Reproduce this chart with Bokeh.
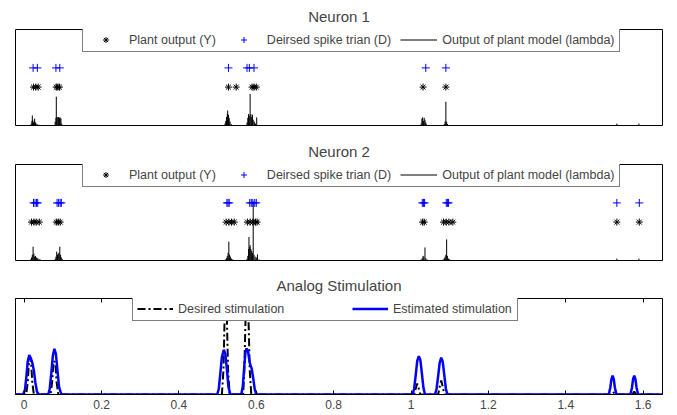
from bokeh.plotting import figure
from bokeh.layouts import column
from bokeh.models import Range1d, Legend, LegendItem, FixedTicker, LinearAxis
from bokeh.embed import file_html
from bokeh.resources import INLINE

FONT = "Liberation Sans"
X_START, X_END = -0.0225, 1.65

# ---------------- data ----------------
# Neuron 1
n1_y_times = [0.024, 0.030, 0.036, 0.083, 0.087, 0.091, 0.528, 0.548, 0.589, 0.594, 0.600, 1.031, 1.090]
n1_d_times = [0.023, 0.034, 0.082, 0.092, 0.528, 0.576, 0.582, 0.594, 1.038, 1.090]
n1_lam_t = [0.018, 0.020, 0.021, 0.022, 0.024, 0.026, 0.027, 0.029, 0.031, 0.034, 0.038,
            0.080, 0.082, 0.083, 0.085, 0.087, 0.089, 0.091, 0.093, 0.095, 0.097,
            0.519, 0.521, 0.523, 0.525, 0.526, 0.528, 0.530, 0.532, 0.535,
            0.576, 0.578, 0.580, 0.582, 0.584, 0.586, 0.588, 0.590, 0.592, 0.595, 0.598, 0.601,
            1.026, 1.028, 1.030, 1.032, 1.034, 1.036, 1.038, 1.040,
            1.086, 1.088, 1.090, 1.092, 1.094,
            1.532, 1.589]
n1_lam_h = [0.05, 0.12, 0.26, 0.15, 0.08, 0.12, 0.18, 0.08, 0.05, 0.03, 0.02,
            0.10, 0.20, 0.75, 0.22, 0.21, 0.22, 0.20, 0.21, 0.18, 0.05,
            0.05, 0.12, 0.22, 0.30, 0.39, 0.28, 0.20, 0.10, 0.04,
            0.08, 0.20, 0.30, 0.25, 0.82, 0.30, 0.22, 0.28, 0.15, 0.10, 0.05, 0.21,
            0.05, 0.18, 0.21, 0.12, 0.20, 0.15, 0.08, 0.03,
            0.04, 0.10, 0.62, 0.10, 0.04,
            0.05, 0.05]

# Neuron 2
n2_y_times = [0.019, 0.025, 0.031, 0.039, 0.083, 0.088, 0.093,
              0.522, 0.529, 0.536, 0.543, 0.577, 0.584, 0.591, 0.598, 0.602,
              1.030, 1.034, 1.084, 1.091, 1.098, 1.108, 1.532, 1.590]
n2_d_times = [0.024, 0.028, 0.032, 0.035, 0.085, 0.089, 0.093, 0.096,
              0.524, 0.527, 0.530, 0.583, 0.587, 0.591, 0.596, 0.600,
              1.029, 1.032, 1.035, 1.091, 1.094, 1.097, 1.532, 1.590]
n2_lam_t = [0.016, 0.019, 0.021, 0.023, 0.025, 0.027, 0.029, 0.032, 0.035, 0.038, 0.041,
            0.080, 0.082, 0.084, 0.086, 0.088, 0.090, 0.092, 0.094, 0.096, 0.099,
            0.520, 0.523, 0.525, 0.527, 0.529, 0.531, 0.533, 0.536, 0.539,
            0.576, 0.578, 0.580, 0.581, 0.583, 0.584, 0.586, 0.588, 0.590, 0.592, 0.594, 0.597, 0.600, 0.603, 0.607,
            1.026, 1.029, 1.031, 1.033, 1.036, 1.038, 1.041,
            1.083, 1.086, 1.088, 1.090, 1.092, 1.094, 1.097, 1.100,
            1.532, 1.589]
n2_lam_h = [0.03, 0.08, 0.15, 0.36, 0.18, 0.10, 0.12, 0.08, 0.06, 0.04, 0.03,
            0.04, 0.10, 0.23, 0.15, 0.18, 0.20, 0.36, 0.15, 0.08, 0.03,
            0.03, 0.06, 0.12, 0.20, 0.49, 0.15, 0.10, 0.05, 0.03,
            0.04, 0.12, 0.30, 0.61, 0.35, 0.40, 0.30, 0.25, 0.20, 1.54, 0.15, 0.10, 0.08, 0.16, 0.03,
            0.03, 0.06, 0.12, 0.10, 0.34, 0.06, 0.03,
            0.03, 0.06, 0.10, 0.15, 0.55, 0.12, 0.05, 0.03,
            0.05, 0.05]

Y_LEVEL = 1.0   # plant output marker level
D_LEVEL = 1.5   # desired spike marker level

# Analog stimulation
desired_x = [-0.03, 0.005, 0.009, 0.012, 0.015, 0.018, 0.021, 0.025,
             0.068, 0.072, 0.075, 0.078, 0.081, 0.084, 0.088,
             0.511, 0.515, 0.517, 0.521, 0.525, 0.527, 0.531,
             0.566, 0.569, 0.571, 0.576, 0.581, 0.583, 0.587,
             1.008, 1.012, 1.016, 1.020, 1.024,
             1.070, 1.074, 1.078, 1.082, 1.086,
             1.517, 1.522, 1.527,
             1.572, 1.577, 1.582, 1.66]
desired_y = [0, 0, 0.12, 0.32, 0.39, 0.32, 0.12, 0,
             0, 0.12, 0.30, 0.35, 0.30, 0.12, 0,
             0, 0.25, 0.60, 1.40, 0.60, 0.25, 0,
             0, 0.25, 0.60, 1.40, 0.60, 0.25, 0,
             0, 0.06, 0.115, 0.06, 0,
             0, 0.08, 0.145, 0.08, 0,
             0, 0.03, 0,
             0, 0.03, 0, 0]

estimated_x = [-0.03, -0.003, 0.002, 0.006, 0.009, 0.013, 0.017, 0.021, 0.025, 0.029, 0.033, 0.038,
               0.062, 0.066, 0.070, 0.074, 0.078, 0.082, 0.086, 0.090, 0.096,
               0.499, 0.503, 0.507, 0.511, 0.516, 0.520, 0.524, 0.528, 0.533,
               0.561, 0.565, 0.569, 0.572, 0.575, 0.579, 0.583, 0.588, 0.592, 0.596, 0.601,
               1.004, 1.008, 1.012, 1.016, 1.020, 1.024, 1.028, 1.032, 1.036,
               1.062, 1.066, 1.070, 1.074, 1.078, 1.082, 1.086, 1.090, 1.094,
               1.511, 1.515, 1.518, 1.521, 1.524, 1.527, 1.531,
               1.567, 1.571, 1.574, 1.577, 1.580, 1.583, 1.587, 1.66]
estimated_y = [0, 0, 0.05, 0.20, 0.34, 0.41, 0.38, 0.33, 0.25, 0.12, 0.03, 0,
               0, 0.06, 0.22, 0.40, 0.476, 0.42, 0.25, 0.08, 0,
               0, 0.06, 0.22, 0.39, 0.466, 0.42, 0.26, 0.08, 0,
               0, 0.08, 0.30, 0.44, 0.48, 0.44, 0.33, 0.27, 0.17, 0.05, 0,
               0, 0.06, 0.20, 0.35, 0.40, 0.36, 0.22, 0.07, 0,
               0, 0.06, 0.19, 0.33, 0.383, 0.34, 0.20, 0.06, 0,
               0, 0.07, 0.16, 0.197, 0.16, 0.07, 0,
               0, 0.07, 0.16, 0.197, 0.16, 0.07, 0, 0]

tick_vals = [0, 0.2, 0.4, 0.6, 0.8, 1.0, 1.2, 1.4, 1.6]
tick_labels = ["0", "0.2", "0.4", "0.6", "0.8", "1", "1.2", "1.4", "1.6"]

titles = ["Neuron 1", "Neuron 2", "Analog Stimulation"]
legend_labels = ["Plant output (Y)", "Deirsed spike trian (D)", "Output of plant model (lambda)"]
analog_labels = ["Desired stimulation", "Estimated stimulation"]

FRAME_H = 96
LEG_H = 23


def style_title(p, text):
    p.title.text = text
    p.title.align = "center"
    p.title.vertical_align = "top"
    p.title.text_font = FONT
    p.title.text_font_size = "15px"
    p.title.text_font_style = "normal"
    p.title.standoff = 6


def style_legend(lg):
    lg.orientation = "horizontal"
    lg.label_text_font = FONT
    lg.label_text_font_size = "12.5px"
    lg.border_line_color = "black"
    lg.border_line_width = 1
    lg.background_fill_color = "white"
    lg.background_fill_alpha = 1.0
    lg.margin = 0
    lg.padding = 4
    lg.label_standoff = 5
    lg.glyph_height = 15
    lg.label_height = 15


def neuron_fig(title, y_t, d_t, lam_t, lam_h, height, border_bottom):
    p = figure(width=677, height=height, x_range=Range1d(X_START, X_END), y_range=Range1d(0, 2.5),
               output_backend="svg", toolbar_location=None,
               x_axis_location=None, y_axis_location=None,
               min_border_left=15, min_border_right=15, min_border_top=29,
               min_border_bottom=border_bottom)
    p.grid.visible = False
    p.outline_line_color = "black"
    p.outline_line_alpha = 1.0
    style_title(p, title)
    r_lam = p.segment(x0=lam_t, y0=[0] * len(lam_t), x1=lam_t, y1=lam_h, line_color="black", line_width=1)
    p.line(x=[X_START, X_END], y=[0, 0], line_color="black", line_width=1)
    r_y = p.scatter(x=y_t, y=[Y_LEVEL] * len(y_t), marker="asterisk", size=7, line_color="black", line_width=1)
    r_d = p.scatter(x=d_t, y=[D_LEVEL] * len(d_t), marker="cross", size=8, line_color="#0000ff", line_width=1)
    lg = Legend(items=[LegendItem(label=legend_labels[0], renderers=[r_y]),
                       LegendItem(label=legend_labels[1], renderers=[r_d]),
                       LegendItem(label=legend_labels[2], renderers=[r_lam])],
                location=(67, FRAME_H - LEG_H))
    style_legend(lg)
    lg.glyph_width = 37
    lg.spacing = 9
    p.add_layout(lg)
    return p


p1 = neuron_fig(titles[0], n1_y_times, n1_d_times, n1_lam_t, n1_lam_h, 135, 10)
p2 = neuron_fig(titles[1], n2_y_times, n2_d_times, n2_lam_t, n2_lam_h, 134, 9)

p3 = figure(width=677, height=146, x_range=Range1d(X_START, X_END), y_range=Range1d(0, 1),
            output_backend="svg", toolbar_location=None,
            x_axis_location=None, y_axis_location=None,
            min_border_left=15, min_border_right=15, min_border_top=29, min_border_bottom=21)
p3.grid.visible = False
p3.outline_line_color = "black"
style_title(p3, titles[2])

xb = LinearAxis(ticker=FixedTicker(ticks=tick_vals),
                major_label_overrides={v: l for v, l in zip(tick_vals, tick_labels)})
xb.major_tick_in = 4
xb.major_tick_out = 0
xb.minor_tick_in = 0
xb.minor_tick_out = 0
xb.major_label_standoff = 5
xb.major_label_text_font = FONT
xb.major_label_text_font_size = "12px"
xb.axis_line_color = "black"
p3.add_layout(xb, "below")

xt = LinearAxis(ticker=FixedTicker(ticks=tick_vals))
xt.major_tick_in = 4
xt.major_tick_out = 0
xt.minor_tick_in = 0
xt.minor_tick_out = 0
xt.major_label_text_font_size = "1px"
xt.major_label_text_alpha = 0
xt.major_label_standoff = 0
xt.axis_line_color = "black"
p3.add_layout(xt, "above")

r_des = p3.line(x=desired_x, y=desired_y, line_color="black", line_width=2, line_dash="8 3 2 3")
r_est = p3.line(x=estimated_x, y=estimated_y, line_color="#0000ff", line_width=2.5)

lg3 = Legend(items=[LegendItem(label=analog_labels[0], renderers=[r_des]),
                    LegendItem(label=analog_labels[1], renderers=[r_est])],
             location=(117, FRAME_H - LEG_H))
style_legend(lg3)
lg3.glyph_width = 36
lg3.label_width = 120
lg3.spacing = 54
p3.add_layout(lg3)

layout = column(p1, p2, p3, spacing=0)
open("out.html", "w").write(file_html(layout, INLINE))
